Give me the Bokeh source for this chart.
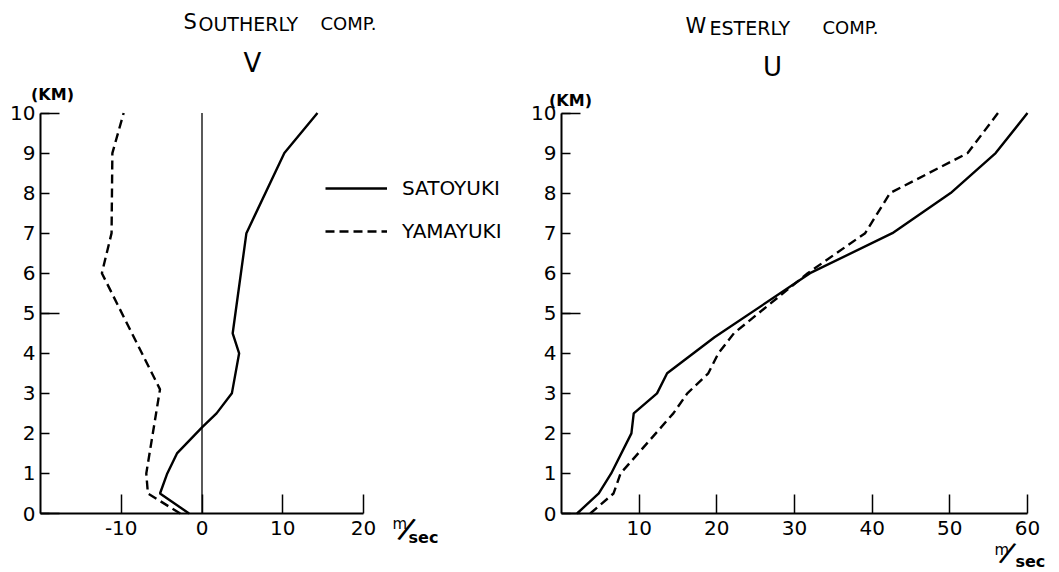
from bokeh.plotting import figure
from bokeh.models import Range1d, FixedTicker, Label, Legend, LegendItem
from bokeh.layouts import row
from bokeh.embed import file_html
from bokeh.resources import INLINE

# ---- data ----
# Southerly component V (m/sec) against height (km)
sato_v_height = [0, 0.5, 1, 1.5, 2.15, 2.5, 3, 4, 4.5, 7, 9, 10]
sato_v = [-1.6, -5.2, -4.3, -3.1, 0, 1.8, 3.7, 4.6, 3.8, 5.5, 10.2, 14.3]
yama_v_height = [0, 0.5, 1, 3.1, 6, 7, 9, 10]
yama_v = [-2.7, -6.7, -6.9, -5.2, -12.4, -11.2, -11.1, -9.7]

# Westerly component U (m/sec) against height (km)
sato_u_height = [0, 0.5, 1, 2, 2.5, 3, 3.5, 4.4, 6, 7, 8, 9, 10]
sato_u = [2.0, 4.8, 6.4, 9.0, 9.3, 12.3, 13.6, 19.7, 32.0, 42.6, 50.1, 55.9, 60.0]
yama_u_height = [0, 0.5, 1, 2.5, 3, 3.5, 4, 4.5, 6, 7, 8, 9, 10]
yama_u = [3.7, 6.7, 7.6, 14.4, 16.2, 18.9, 20.2, 22.2, 31.7, 39.1, 42.3, 52.3, 56.2]

height_ticks = list(range(0, 11))
v_ticks = [-10, 0, 10, 20]
v_tick_labels = {-10: "-10"}
u_ticks = [10, 20, 30, 40, 50, 60]

FONT = "DejaVu Sans"
PX_KM = 40.05
Y_BOT = -59 / PX_KM
Y_TOP = 513 / PX_KM
LPX = 8.075     # px per m/sec, left panel
RPX = 7.7667    # px per m/sec, right panel


def L(px, py):
    return (-20 + (px - 40) / LPX, (513 - py) / PX_KM)


def R(px, py):
    return ((px - 561) / RPX, (513 - py) / PX_KM)


def make_fig(width, xr, xticks, xbounds, yaxis_at):
    p = figure(width=width, height=572, x_range=xr, y_range=Range1d(Y_BOT, Y_TOP),
               output_backend="svg", toolbar_location=None, title=None,
               min_border=0)
    p.xgrid.visible = False
    p.ygrid.visible = False
    p.outline_line_color = None
    p.background_fill_color = "white"
    p.border_fill_color = "white"
    xa = p.xaxis[0]
    xa.fixed_location = 0
    xa.ticker = FixedTicker(ticks=xticks)
    xa.bounds = xbounds
    xa.axis_line_width = 2
    xa.axis_line_color = "black"
    xa.major_tick_in = 19
    xa.major_tick_out = 0
    xa.major_tick_line_width = 1.5
    xa.minor_tick_line_color = None
    xa.major_label_text_font = FONT
    xa.major_label_text_font_size = "20px"
    xa.major_label_text_color = "black"
    xa.major_label_standoff = 7
    ya = p.yaxis[0]
    ya.fixed_location = yaxis_at
    ya.ticker = FixedTicker(ticks=height_ticks, minor_ticks=[0, 5, 10])
    ya.bounds = (0, 10)
    ya.axis_line_width = 2
    ya.axis_line_color = "black"
    ya.major_tick_in = 9
    ya.major_tick_out = 0
    ya.major_tick_line_width = 1.5
    ya.minor_tick_in = 19
    ya.minor_tick_out = 0
    ya.minor_tick_line_width = 1.5
    ya.minor_tick_line_color = "black"
    ya.major_label_text_font = FONT
    ya.major_label_text_font_size = "20px"
    ya.major_label_text_color = "black"
    ya.major_label_standoff = 5
    return p


def lab(p, pos, text, size, align="left", style="normal", angle=0, font=FONT):
    x, y = pos
    p.add_layout(Label(x=x, y=y, text=text, text_font=font, text_font_size=size,
                       text_align=align, text_baseline="middle", text_color="black",
                       text_font_style=style, angle=angle))


# ---- left panel: V ----
left = make_fig(520, Range1d(-20 - 40 / LPX, 20 + 157 / LPX), v_ticks, (-20, 20), -20)
left.xaxis[0].major_label_overrides = v_tick_labels
left.line([0, 0], [height_ticks[0], height_ticks[-1]], line_color="black", line_width=1.3)
r_sv = left.line(sato_v, sato_v_height, line_color="black", line_width=2.4)
r_yv = left.line(yama_v, yama_v_height, line_color="black", line_width=2.4, line_dash="9 5")

legend = Legend(items=[LegendItem(label="SATOYUKI", renderers=[r_sv]),
                       LegendItem(label="YAMAYUKI", renderers=[r_yv])],
                location=(325, 572 - 243), glyph_width=62, glyph_height=20, label_height=20,
                label_standoff=15, spacing=19, padding=0, margin=0,
                border_line_color=None, background_fill_alpha=0,
                label_text_font=FONT, label_text_font_size="20px", label_text_color="black")
left.add_layout(legend)

lab(left, L(183, 21), "S", "21px")
lab(left, L(198, 23), "OUTHERLY", "19px")
lab(left, L(320, 23), "COMP.", "18px")
lab(left, L(252, 62), "V", "26px", align="center")
lab(left, L(52, 94), "(KM)", "16px", align="center", style="bold")
lab(left, L(392, 523), "m", "15px")
lab(left, L(406, 529), "/", "34px", align="center", angle=-0.4, font="Liberation Sans")
lab(left, L(408, 537), "sec", "16px", style="bold")

# ---- right panel: U ----
right = make_fig(539, Range1d(-41 / RPX, 60 + 32 / RPX), u_ticks, (0, 60), 0)
right.line(sato_u, sato_u_height, line_color="black", line_width=2.4)
right.line(yama_u, yama_u_height, line_color="black", line_width=2.4, line_dash="9 5")

lab(right, R(685, 25), "W", "21px")
lab(right, R(709, 27), "ESTERLY", "19px")
lab(right, R(822, 27), "COMP.", "18px")
lab(right, R(772, 66), "U", "26px", align="center")
lab(right, R(570, 100), "(KM)", "16px", align="center", style="bold")
lab(right, R(994, 549), "m", "15px")
lab(right, R(1007, 553), "/", "32px", align="center", angle=-0.4, font="Liberation Sans")
lab(right, R(1015, 561), "sec", "16px", style="bold")

layout = row(left, right)
open("out.html", "w").write(file_html(layout, INLINE))
